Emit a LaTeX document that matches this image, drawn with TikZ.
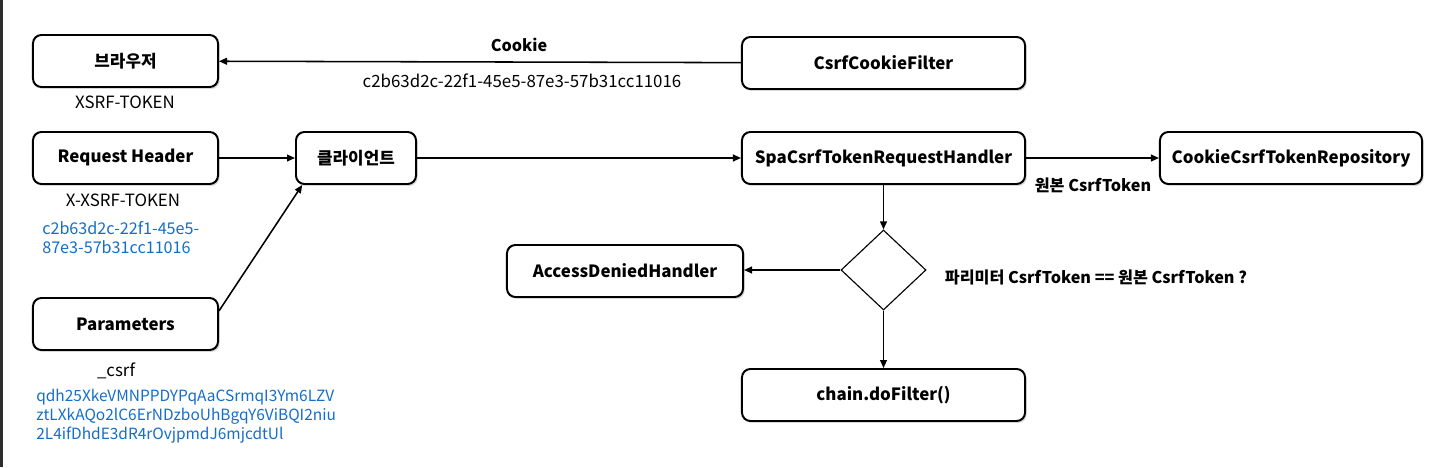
\documentclass[tikz,border=0pt]{standalone}
\usepackage{fontspec}
\setmainfont{Noto Sans CJK KR}
\usepackage{tikz}
\usetikzlibrary{shapes.geometric, arrows.meta, positioning, shadows}
\definecolor{tokenblue}{RGB}{20,110,200}
\definecolor{sidebar}{RGB}{45,45,45}

\begin{document}
\begin{tikzpicture}[
  x=0.025cm, y=-0.025cm,
  box/.style={draw,line width=1.4pt,fill=white,rounded corners=6pt,minimum height=1.3cm,
              align=center,font=\fontsize{12}{14}\selectfont\bfseries,
              drop shadow={shadow xshift=1.2pt,shadow yshift=-1.4pt,opacity=0.3}},
  decision/.style={diamond,draw,line width=0.8pt,fill=white,inner sep=0pt,
                   minimum width=2.125cm,minimum height=2cm},
  note/.style={font=\fontsize{12}{14}\selectfont},
  label/.style={font=\fontsize{11.5}{13}\selectfont\bfseries},
  token/.style={align=left,text=tokenblue,inner sep=0pt,font=\fontsize{11}{13.5}\selectfont},
  arrow/.style={-{Triangle[length=0.2cm,width=0.17cm]},line width=1.1pt}
]
  \useasboundingbox (0,0) rectangle (1432,467);
  \fill[white] (0,0) rectangle (1432,467);
  \fill[sidebar] (0,0) rectangle (3,467);

  \node[box, minimum width=4.625cm] (browser) at (125.5,61) {브라우저};
  \node[box, minimum width=4.625cm] (reqheader) at (125.5,158) {Request Header};
  \node[box, minimum width=4.625cm] (params) at (125.5,324) {Parameters};
  \node[box, minimum width=3cm] (client) at (356,158) {클라이언트};
  \node[box, minimum width=7.075cm] (cookiefilter) at (883.5,63) {CsrfCookieFilter};
  \node[box, minimum width=7.075cm] (spahandler) at (883.5,158) {SpaCsrfTokenRequestHandler};
  \node[box, minimum width=6.55cm] (repository) at (1291,158) {CookieCsrfTokenRepository};
  \node[decision] (check) at (883.5,270) {};
  \node[box, minimum width=5.9cm] (denied) at (625,271) {AccessDeniedHandler};
  \node[box, minimum width=7.075cm] (dofilter) at (883.5,395) {chain.doFilter()};

  \node[note] (xsrf) at (125,102) {XSRF-TOKEN};
  \node[note] (xxsrf) at (123,200) {X-XSRF-TOKEN};
  \node[token, anchor=north west, font=\fontsize{11.5}{13.5}\selectfont] (headervalue) at (42,221)
    {c2b63d2c-22f1-45e5-\\87e3-57b31cc11016};
  \node[note] (csrfname) at (116,371) {\_csrf};
  \node[token, anchor=north west] (paramvalue) at (36,389)
    {qdh25XkeVMNPPDYPqAaCSrmqI3Ym6LZV\\ztLXkAQo2lC6ErNDzboUhBgqY6ViBQI2niu\\2L4ifDhdE3dR4rOvjpmdJ6mjcdtUl};
  \node[label] (cookielabel) at (519,45) {Cookie};
  \node[note] (cookievalue) at (522,81) {c2b63d2c-22f1-45e5-87e3-57b31cc11016};
  \node[label] (original) at (1093,185) {원본 CsrfToken};
  \node[label, anchor=west] (condition) at (940,277) {파리미터 CsrfToken == 원본 CsrfToken ?};

  \draw[arrow] (cookiefilter) -- (browser);
  \draw[arrow] (reqheader) -- (client);
  \draw[arrow] (params.8) -- ([xshift=0.18cm]client.south west);
  \draw[arrow] (client) -- (spahandler);
  \draw[arrow] (spahandler) -- (repository);
  \draw[arrow] (spahandler) -- (check);
  \draw[arrow] (check.west) -- (denied.east |- check.west);
  \draw[arrow] (check) -- (dofilter);
\end{tikzpicture}
\end{document}
